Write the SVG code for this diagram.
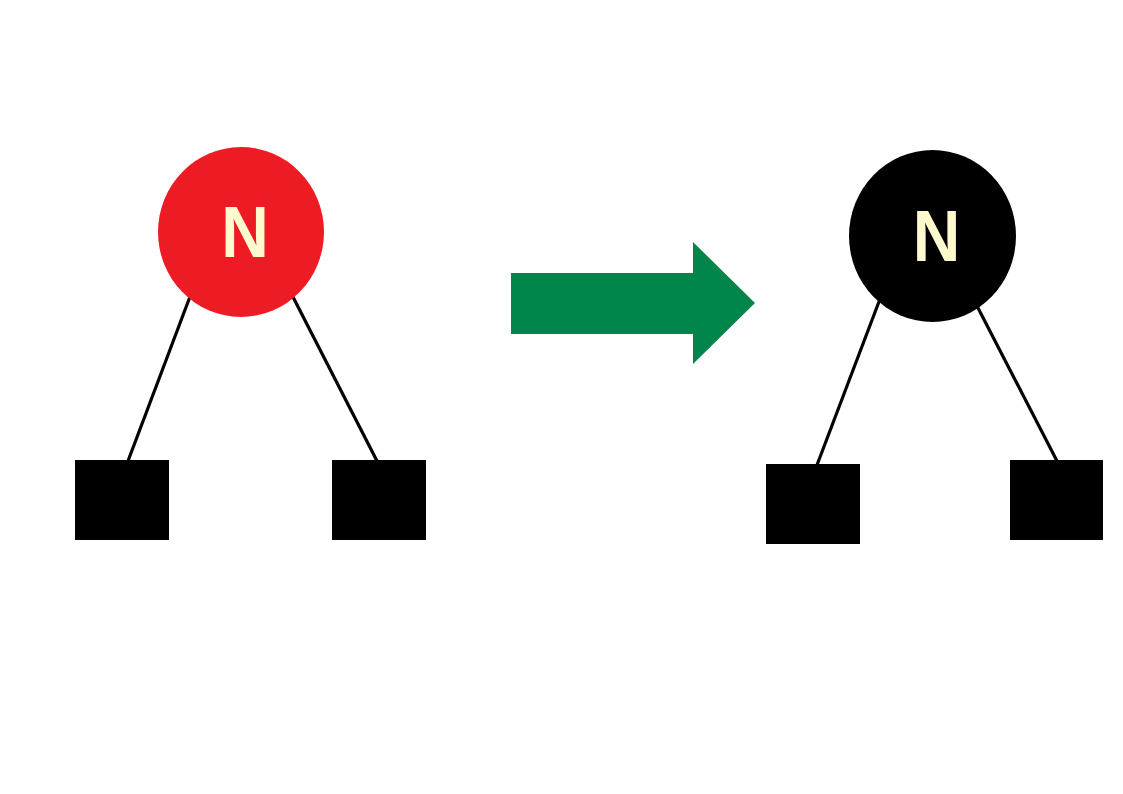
<svg xmlns="http://www.w3.org/2000/svg" width="1123" height="794" viewBox="0 0 1123 794">
<style>
.edge{stroke:#000;stroke-width:3.2;fill:none}
.leaf{fill:#000}
.lbl{font-family:"Liberation Sans",Arial,sans-serif;font-weight:bold;font-size:72px;fill:#FFFACD;text-anchor:middle}
</style>
<rect width="1123" height="794" fill="#fff"/>
<g id="connectors">
<line class="edge" x1="191" y1="294" x2="128" y2="461"/>
<line class="edge" x1="292" y1="295" x2="377" y2="461"/>
<line class="edge" x1="880" y1="299" x2="817" y2="465"/>
<line class="edge" x1="977" y1="306" x2="1057" y2="461"/>
</g>
<g id="left-N">
<ellipse cx="241" cy="232" rx="83" ry="85" fill="#ED1C24"/>
<text class="lbl" transform="translate(245 257) scale(0.915 1)" x="0" y="0">N</text>
</g>
<g id="left-leaf-1"><rect class="leaf" x="75" y="460" width="94" height="80"/></g>
<g id="left-leaf-2"><rect class="leaf" x="332" y="460" width="94" height="80"/></g>
<g id="arrow">
<polygon points="511,273 693,273 693,242 755,303 693,364 693,334 511,334" fill="#00854A"/>
</g>
<g id="right-N">
<ellipse cx="932.5" cy="236" rx="83.5" ry="86" fill="#000"/>
<text class="lbl" transform="translate(936.5 261) scale(0.915 1)" x="0" y="0">N</text>
</g>
<g id="right-leaf-1"><rect class="leaf" x="766" y="464" width="94" height="80"/></g>
<g id="right-leaf-2"><rect class="leaf" x="1010" y="460" width="93" height="80"/></g>
</svg>
